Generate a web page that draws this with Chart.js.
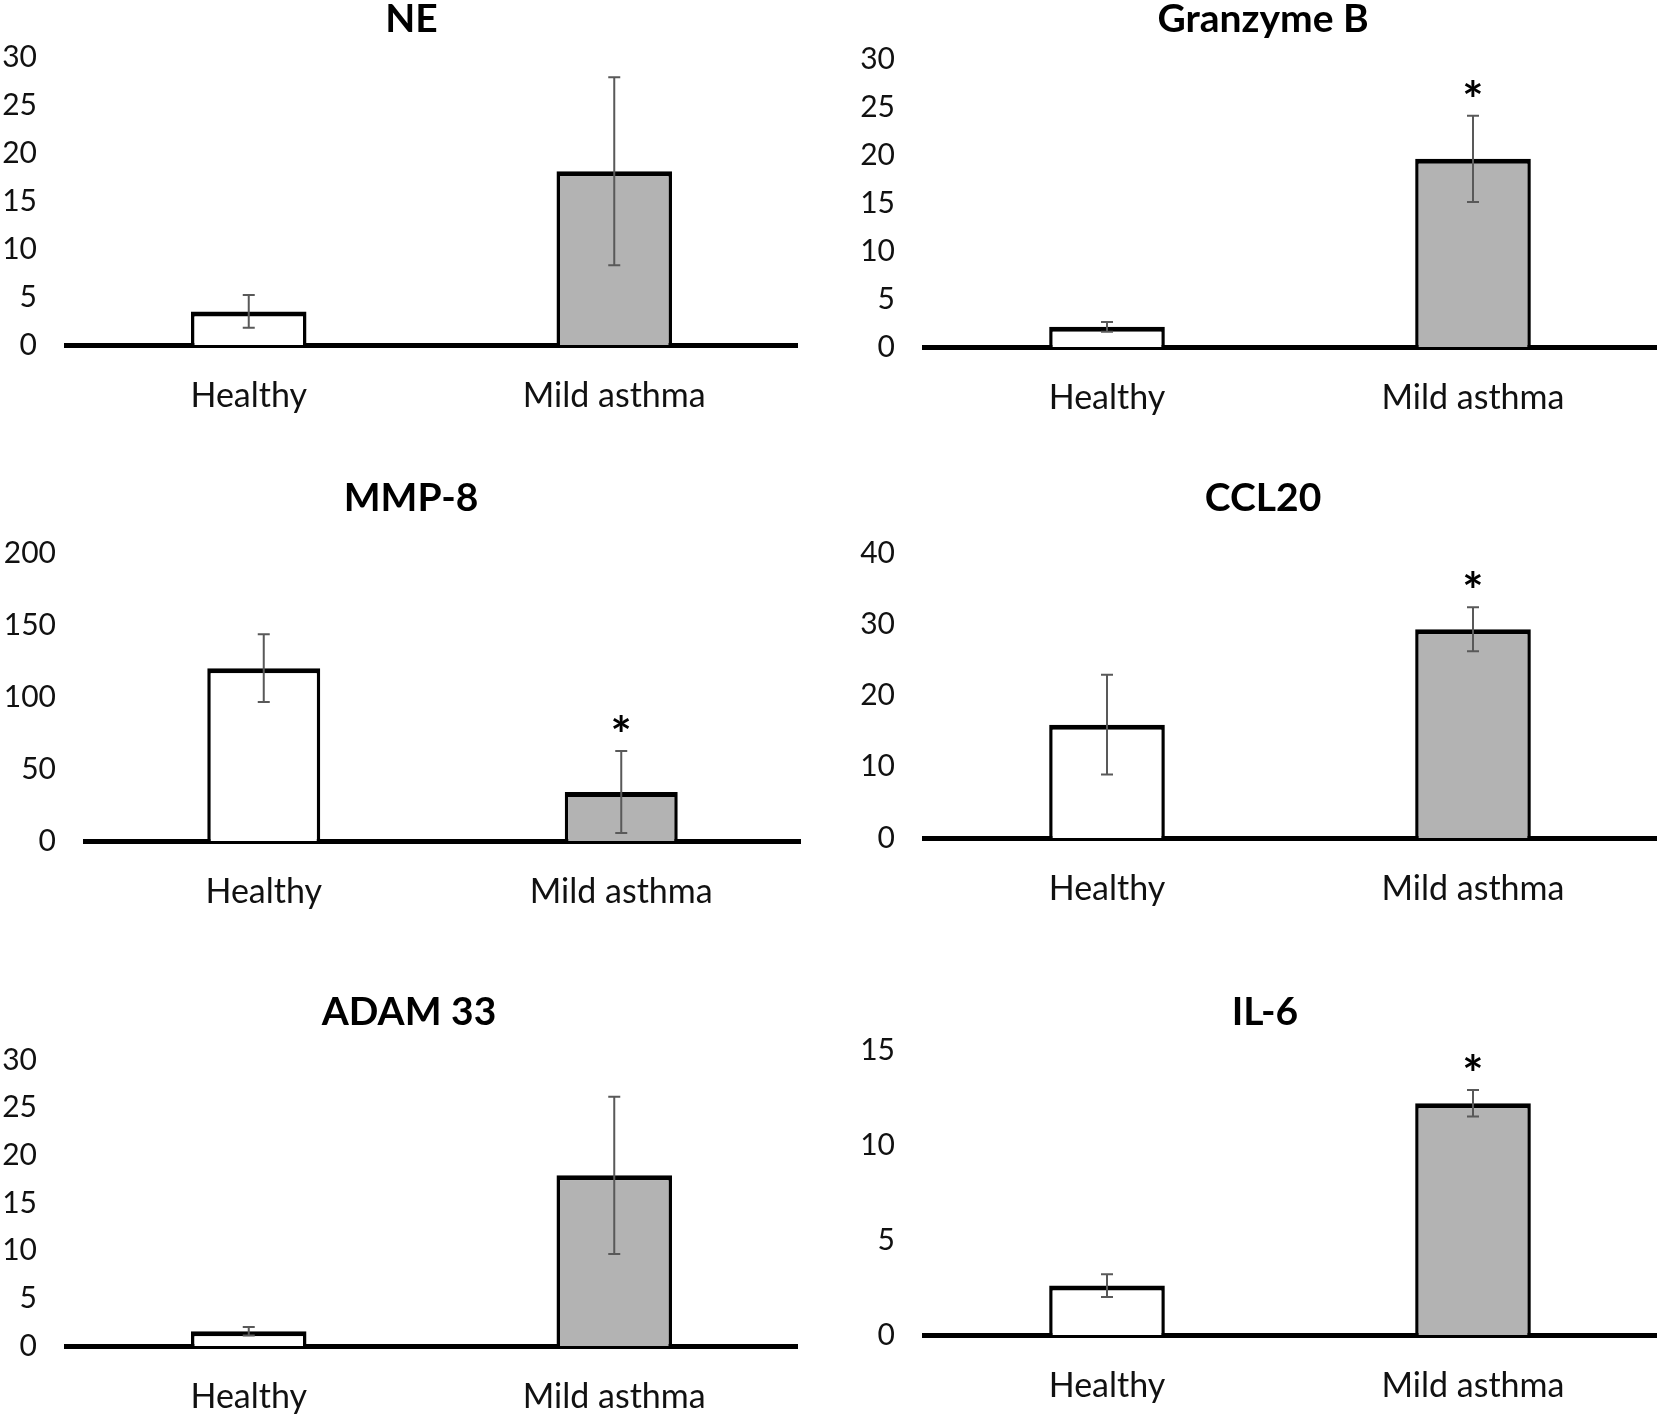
<!DOCTYPE html>
<html>
  <head>
    <script src="https://cdn.jsdelivr.net/npm/chart.js"></script>
    <style>
      body {
        margin: 0;
        padding: 0;
        background: white;
        width: 1662px;
        height: 1417px;
        overflow: hidden;
        position: relative;
        font-family: Lato, sans-serif;
      }
      canvas {
        position: absolute;
      }
    </style>
  </head>
  <body>
    <script>
      // values
      const groups = ['Healthy', 'Mild asthma'];
      const markers = ['NE', 'Granzyme B', 'MMP-8', 'CCL20', 'ADAM 33', 'IL-6'];
      const healthyMean = [3.5, 2.1, 120, 15.9, 1.55, 2.6];
      const healthyErr = [1.7, 0.5, 23.5, 7.0, 0.45, 0.6];
      const asthmaMean = [18.1, 19.6, 34, 29.3, 17.9, 12.2];
      const asthmaErr = [9.8, 4.5, 28.5, 3.1, 8.25, 0.7];
      const significant = [false, true, true, true, false, true];
      const yMax = [30, 30, 200, 40, 30, 15];
      const yStep = [5, 5, 50, 10, 5, 5];

      // where each panel sits on the page; an empty right axis of width gapR keeps the title centred right
      const panels = [
        { left: 0,   top: 0,   width: 823, height: 425, axisW: 66, gapR: 26, titleGap: 18 },
        { left: 840, top: 0,   width: 846, height: 427, axisW: 84, gapR: 30, titleGap: 20 },
        { left: 0,   top: 479, width: 822, height: 442, axisW: 85, gapR: 22, titleGap: 35 },
        { left: 840, top: 479, width: 846, height: 439, axisW: 84, gapR: 30, titleGap: 35 },
        { left: 0,   top: 993, width: 818, height: 433, axisW: 66, gapR: 21, titleGap: 28 },
        { left: 844, top: 993, width: 842, height: 422, axisW: 80, gapR: 30, titleGap: 18 }
      ];

      const errorBars = {
        id: 'errorBars',
        afterDatasetsDraw(chart, args, opts) {
          const ctx = chart.ctx;
          const y = chart.scales.y;
          const meta = chart.getDatasetMeta(0);
          const errs = chart.data.datasets[0].errors;
          const vals = chart.data.datasets[0].data;
          ctx.save();
          ctx.strokeStyle = '#595959';
          ctx.lineWidth = 2;
          meta.data.forEach((bar, i) => {
            const top = y.getPixelForValue(vals[i] + errs[i]);
            const bot = y.getPixelForValue(vals[i] - errs[i]);
            ctx.beginPath();
            ctx.moveTo(bar.x, top); ctx.lineTo(bar.x, bot);
            ctx.moveTo(bar.x - 6, top); ctx.lineTo(bar.x + 6, top);
            ctx.moveTo(bar.x - 6, bot); ctx.lineTo(bar.x + 6, bot);
            ctx.stroke();
            if (opts.star && i === 1) {
              ctx.fillStyle = '#000';
              ctx.font = 'bold 50px Lato';
              ctx.textAlign = 'center';
              ctx.textBaseline = 'middle';
              ctx.fillText('*', bar.x, top - 14);
            }
          });
          ctx.restore();
        }
      };

      markers.forEach((name, k) => {
        const p = panels[k];
        const cv = document.createElement('canvas');
        cv.style.left = p.left + 'px';
        cv.style.top = p.top + 'px';
        cv.style.width = p.width + 'px';
        cv.style.height = p.height + 'px';
        cv.width = p.width;
        cv.height = p.height;
        document.body.appendChild(cv);

        new Chart(cv, {
          type: 'bar',
          data: {
            labels: groups,
            datasets: [{
              data: [healthyMean[k], asthmaMean[k]],
              errors: [healthyErr[k], asthmaErr[k]],
              backgroundColor: ['#ffffff', '#b3b3b3'],
              borderColor: '#000000',
              borderWidth: { top: 5, left: 3.5, right: 3.5, bottom: 0 },
              borderSkipped: 'start',
              barPercentage: 0.316,
              categoryPercentage: 1
            }]
          },
          options: {
            responsive: false,
            animation: false,
            layout: { padding: 0 },
            plugins: {
              legend: { display: false },
              tooltip: { enabled: false },
              title: {
                display: true,
                text: name,
                color: '#000',
                font: { family: 'Lato', size: 39, weight: 'bold', lineHeight: 1.0 },
                padding: { top: 0, bottom: p.titleGap }
              },
              errorBars: { star: significant[k] }
            },
            scales: {
              x: {
                z: 1,
                grid: { display: false, drawTicks: false },
                border: { display: true, color: '#000', width: 5 },
                ticks: { color: '#111', padding: 31, font: { family: 'Lato', size: 34 } },
                afterFit(s) { s.height = 80; }
              },
              y: {
                min: 0,
                max: yMax[k],
                grid: { display: false, drawTicks: false },
                border: { display: false },
                ticks: { stepSize: yStep[k], color: '#111', padding: 29, font: { family: 'Lato', size: 30 } },
                afterFit(s) { s.width = p.axisW; }
              },
              gap: {
                type: 'linear',
                position: 'right',
                grid: { display: false, drawTicks: false },
                border: { display: false },
                ticks: { display: false },
                afterFit(s) { s.width = p.gapR; }
              }
            }
          },
          plugins: [errorBars]
        });
      });
    </script>
  </body>
</html>
